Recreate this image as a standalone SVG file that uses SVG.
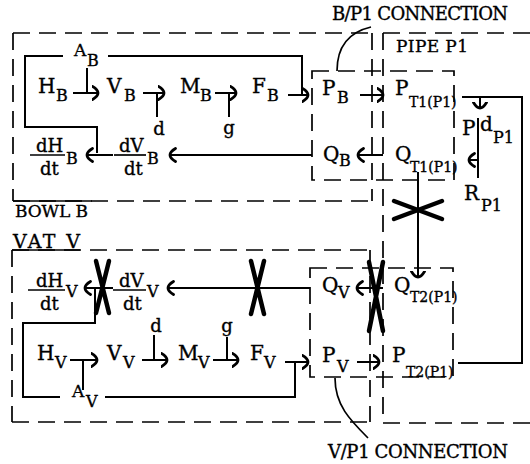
<svg xmlns="http://www.w3.org/2000/svg" width="530" height="464" viewBox="0 0 530 464">
<style>
text { font-family: "DejaVu Serif", "Liberation Serif", serif; fill: #000; stroke: #000; stroke-width: 0.35; }
.m { font-size: 20px; }
.s { font-size: 16px; }
.t { font-size: 14px; }
.f { font-size: 18px; }
.l { font-size: 17px; }
.c { fill: none; stroke: #000; stroke-width: 2; }
.a { marker-end: url(#ah); }
.b { fill: none; stroke: #000; stroke-width: 1.7; stroke-dasharray: 17 9; }
.sl { fill: none; stroke: #000; stroke-width: 1.7; }
.x { fill: none; stroke: #000; stroke-width: 4.5; stroke-linecap: round; }
.fb { stroke: #000; stroke-width: 1.7; }
</style>
<defs>
<marker id="ah" markerUnits="userSpaceOnUse" viewBox="0 0 10 16" refX="6.5" refY="8" markerWidth="10" markerHeight="16" orient="auto">
<path d="M1,1.5 Q12,8 1,14.5" fill="none" stroke="#000" stroke-width="2.8" stroke-linecap="round"/>
</marker>
</defs>

<g id="boundaries">
<path class="b" d="M13,33 H372"/>
<path class="b" d="M13,33 V201"/>
<path class="b" d="M13,201 H372"/>
<path class="sl" d="M13,201 H92"/>
<path class="b" d="M372,33 V201"/>
<path class="b" d="M12,250 H370"/>
<path class="sl" d="M12,250 H80"/>
<path class="b" d="M12,250 V422"/>
<path class="b" d="M12,422 H370"/>
<path class="b" d="M370,250 V422"/>
<path class="b" d="M383,33 V423"/>
<path class="b" d="M383,33 H530"/>
<path class="b" d="M383,423 H530"/>
<rect class="b" x="312" y="71" width="142" height="109"/>
<rect class="b" x="310" y="268" width="143" height="109"/>
</g>

<g id="labels">
<text class="f" x="332" y="20" textLength="176">B/P1 CONNECTION</text>
<text class="l" x="396" y="52" textLength="72">PIPE P1</text>
<text class="l" x="15" y="217" textLength="73">BOWL B</text>
<text class="l" x="13" y="248" style="font-size:19px" textLength="67">VAT V</text>
<text class="f" x="328" y="458" textLength="180">V/P1 CONNECTION</text>
</g>

<g id="connectors">
<path class="c" d="M63,56 H25 V127 H97 V153"/>
<path class="c" d="M108,56 H302 V95"/>
<path class="c" d="M87,68 V93"/>
<path class="c a" d="M73,93 H98"/>
<path class="c a" d="M143,93 H164"/>
<path class="c" d="M157,117 V93"/>
<path class="c a" d="M215,93 H236"/>
<path class="c" d="M229,117 V93"/>
<path class="c a" d="M288,95 H308"/>
<path class="c a" d="M360,95 H383"/>
<path class="c a" d="M312,155 H170"/>
<path class="c a" d="M383,155 H358"/>
<path class="c a" d="M113,155 H87"/>
<path class="c" d="M462,97 H522 V363 H458"/>
<path class="c a" d="M480,97 V108"/>
<path class="c" d="M478,118 V178"/>
<path class="c a" d="M478,160 H469"/>
<path class="c a" d="M418,172 V277"/>
<path class="c a" d="M310,288 H168"/>
<path class="c a" d="M383,288 H357"/>
<path class="c a" d="M113,288 H85"/>
<path class="c" d="M95,288 V323 H23 V397 H60"/>
<path class="c" d="M105,397 H295 V362"/>
<path class="c" d="M83,390 V360"/>
<path class="c a" d="M70,360 H97"/>
<path class="c a" d="M142,360 H167"/>
<path class="c" d="M154,335 V360"/>
<path class="c a" d="M213,360 H238"/>
<path class="c" d="M227,337 V360"/>
<path class="c a" d="M285,362 H308"/>
<path class="c a" d="M357,362 H379"/>
<path class="sl" d="M337,71 C337,50 345,33 371,27"/>
<path class="sl" d="M335,378 C335,405 350,420 368,438"/>
<path class="x" d="M96,261 L109,313 M109,261 L96,313"/>
<path class="x" d="M251,261 L264,314 M264,261 L251,314"/>
<path class="x" d="M369,262 L383,331 M383,262 L369,331"/>
<path class="x" d="M394,201 L442,219 M394,219 L442,201"/>
</g>

<g id="A_B"><text class="l" x="74" y="56">A</text><text class="s" x="87" y="66">B</text></g>
<g id="H_B"><text class="m" x="38" y="93">H</text><text class="s" x="56" y="101">B</text></g>
<g id="V_B"><text class="m" x="107" y="93">V</text><text class="s" x="124" y="101">B</text></g>
<g id="M_B"><text class="m" x="180" y="93">M</text><text class="s" x="200" y="101">B</text></g>
<g id="F_B"><text class="m" x="252" y="93">F</text><text class="s" x="267" y="101">B</text></g>
<g id="d_B"><text class="f" x="159" y="135" text-anchor="middle">d</text></g>
<g id="g_B"><text class="f" x="229" y="134" text-anchor="middle">g</text></g>
<g id="P_B"><text class="m" x="322" y="95">P</text><text class="s" x="337" y="103">B</text></g>
<g id="P_T1"><text class="m" x="395" y="95">P</text><text class="t" x="409" y="107">T1(P1)</text></g>
<g id="Pd_P1"><text class="m" x="462" y="135">P</text><text class="m" x="480" y="131">d</text><text class="s" x="493" y="143">P1</text></g>
<g id="R_P1"><text class="m" x="464" y="200">R</text><text class="s" x="481" y="211">P1</text></g>
<g id="Q_B"><text class="m" x="323" y="161">Q</text><text class="s" x="339" y="166">B</text></g>
<g id="Q_T1"><text class="m" x="395" y="161">Q</text><text class="t" x="410" y="172">T1(P1)</text></g>
<g id="dH_B"><text class="f" x="36" y="152">dH</text><line class="fb" x1="30" y1="155" x2="65" y2="155"/><text class="f" x="40" y="175">dt</text><text class="s" x="66" y="164">B</text></g>
<g id="dV_B"><text class="f" x="119" y="152">dV</text><line class="fb" x1="114" y1="155" x2="146" y2="155"/><text class="f" x="124" y="175">dt</text><text class="s" x="147" y="164">B</text></g>

<g id="dH_V"><text class="f" x="36" y="287">dH</text><line class="fb" x1="28" y1="290" x2="65" y2="290"/><text class="f" x="40" y="310">dt</text><text class="s" x="66" y="297">V</text></g>
<g id="dV_V"><text class="f" x="119" y="287">dV</text><line class="fb" x1="113" y1="290" x2="146" y2="290"/><text class="f" x="123" y="310">dt</text><text class="s" x="147" y="297">V</text></g>
<g id="Q_V"><text class="m" x="322" y="292">Q</text><text class="s" x="338" y="298">V</text></g>
<g id="Q_T2"><text class="m" x="394" y="292">Q</text><text class="t" x="410" y="302">T2(P1)</text></g>
<g id="H_V"><text class="m" x="37" y="360">H</text><text class="s" x="55" y="368">V</text></g>
<g id="V_V"><text class="m" x="107" y="360">V</text><text class="s" x="123" y="368">V</text></g>
<g id="M_V"><text class="m" x="178" y="360">M</text><text class="s" x="198" y="368">V</text></g>
<g id="F_V"><text class="m" x="250" y="360">F</text><text class="s" x="264" y="368">V</text></g>
<g id="d_V"><text class="f" x="156" y="332" text-anchor="middle">d</text></g>
<g id="g_V"><text class="f" x="227" y="332" text-anchor="middle">g</text></g>
<g id="P_V"><text class="m" x="322" y="362">P</text><text class="s" x="337" y="372">V</text></g>
<g id="P_T2"><text class="m" x="392" y="362">P</text><text class="t" x="406" y="377">T2(P1)</text></g>
<g id="A_V"><text class="l" x="72" y="397">A</text><text class="s" x="86" y="407">V</text></g>
</svg>
